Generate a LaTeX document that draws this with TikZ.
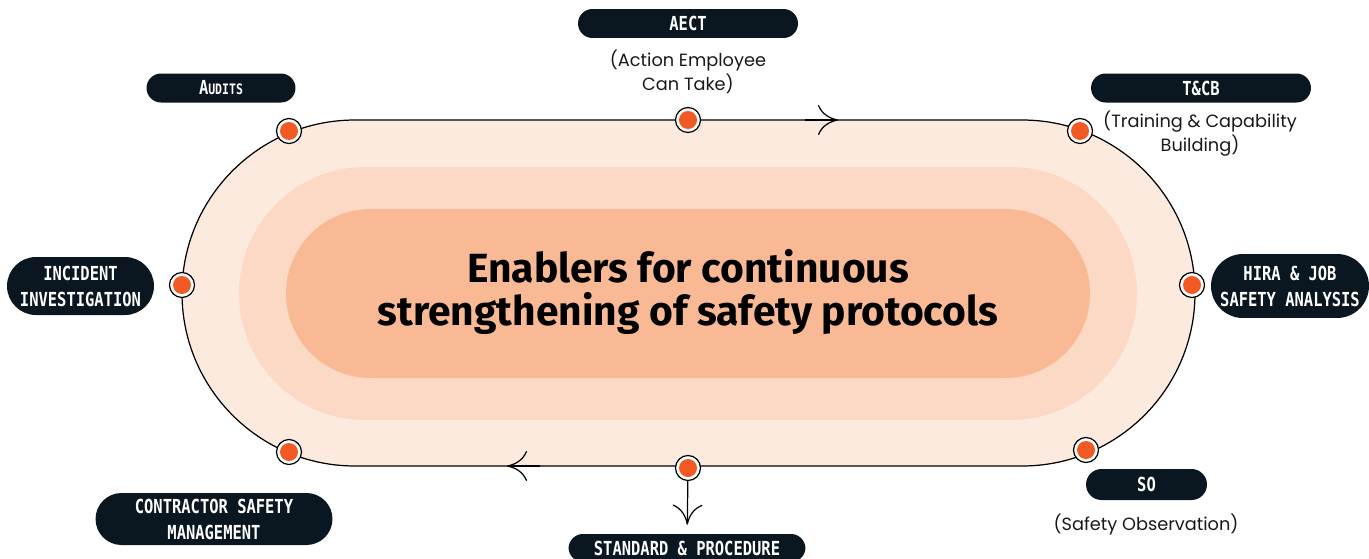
\documentclass[tikz,border=0pt]{standalone}
\usepackage{fontspec}
\usepackage{tikz}
\usetikzlibrary{positioning, arrows.meta, calc}
\newfontfamily\titlefont{Fira Sans}
\newfontfamily\descfont{Poppins}
\newfontfamily\pillfont[FakeStretch=0.8]{DejaVu Sans Mono}
\definecolor{ringouter}{HTML}{FDEADF}
\definecolor{ringmid}{HTML}{FCD9C5}
\definecolor{ringinner}{HTML}{F9B995}
\definecolor{dotorange}{HTML}{F15A24}
\definecolor{pillnavy}{HTML}{0B1720}
\tikzset{
    pill/.style={rectangle, rounded corners=#1, fill=pillnavy, text=white, align=center,
      font=\pillfont\bfseries\fontsize{11}{14.8}\selectfont, inner sep=0pt},
    pill/.default=0.29cm,
    desc/.style={align=center, font=\descfont\fontsize{10.1}{13.6}\selectfont, text=black!90},
    hub/.style={circle, draw=black, line width=0.7pt, fill=white, minimum size=0.50cm, inner sep=0pt,
      path picture={\fill[dotorange] (path picture bounding box.center) circle (0.18cm);}},
    flowtip/.style={-{Computer Modern Rightarrow[length=0.4cm, width=0.6cm, line width=0.7pt]}, line width=0.7pt}
}
\begin{document}
\begin{tikzpicture}[x=0.02cm, y=-0.02cm]
    \useasboundingbox (0,0) rectangle (1369,558);
    % layered stadium
    \fill[ringouter, rounded corners=3.46cm] (182,120) rectangle (1195,466);
    \draw[line width=0.7pt, rounded corners=3.46cm] (182,120) rectangle (1195,466);
    \fill[ringmid, rounded corners=2.53cm] (239,167) rectangle (1137,420);
    \fill[ringinner, rounded corners=1.69cm] (286,209) rectangle (1090,378);
    \node[font=\titlefont\bfseries\fontsize{23.2}{25}\selectfont, align=center] (title) at (688,292)
      {Enablers for continuous\\strengthening of safety protocols};
    % flow marks on the outline
    \coordinate (topA) at (805,120);
    \coordinate (topB) at (838,120);
    \coordinate (botA) at (540,466);
    \coordinate (botB) at (507,466);
    \draw[flowtip] (topA) -- (topB);
    \draw[flowtip] (botA) -- (botB);
    % hubs on the outline
    \node[hub] (dAECT) at (688,120) {};
    \node[hub] (dAud) at (289,131) {};
    \node[hub] (dTCB) at (1080,131) {};
    \node[hub] (dInc) at (182,285) {};
    \node[hub] (dHira) at (1192,285) {};
    \node[hub] (dCon) at (289,452) {};
    \node[hub] (dStd) at (688,468) {};
    \node[hub] (dSO) at (1086,450) {};
    % labels
    \node[pill, minimum width=4.40cm, minimum height=0.58cm] (pAECT) at (688,23.5) {AECT};
    \node[desc] (tAECT) at (688,72) {(Action Employee\\Can Take)};
    \node[pill, minimum width=2.98cm, minimum height=0.58cm] (pAud) at (221,88)
      {A{\fontsize{8.2}{9}\selectfont UDITS}};
    \node[pill, minimum width=4.40cm, minimum height=0.58cm] (pTCB) at (1201,88) {T\&CB};
    \node[desc] (tTCB) at (1200,134) {(Training \& Capability\\Building)};
    \node[pill=0.58cm, minimum width=2.94cm, minimum height=1.16cm] (pInc) at (80.5,286)
      {INCIDENT\\INVESTIGATION};
    \node[pill=0.64cm, minimum width=3.16cm, minimum height=1.28cm] (pHira) at (1290,286)
      {HIRA \& JOB\\SAFETY ANALYSIS};
    \node[pill=0.52cm, minimum width=4.74cm, minimum height=1.04cm] (pCon) at (214,519)
      {CONTRACTOR SAFETY\\MANAGEMENT};
    \node[pill, minimum width=4.74cm, minimum height=0.56cm] (pStd) at (687,548)
      {STANDARD \& PROCEDURE};
    \node[pill=0.31cm, minimum width=2.42cm, minimum height=0.62cm] (pSO) at (1146.5,484.5) {SO};
    \node[desc] (tSO) at (1146,524) {(Safety Observation)};
    \draw[flowtip, shorten >=0.18cm] (dStd) -- (pStd);
\end{tikzpicture}
\end{document}
